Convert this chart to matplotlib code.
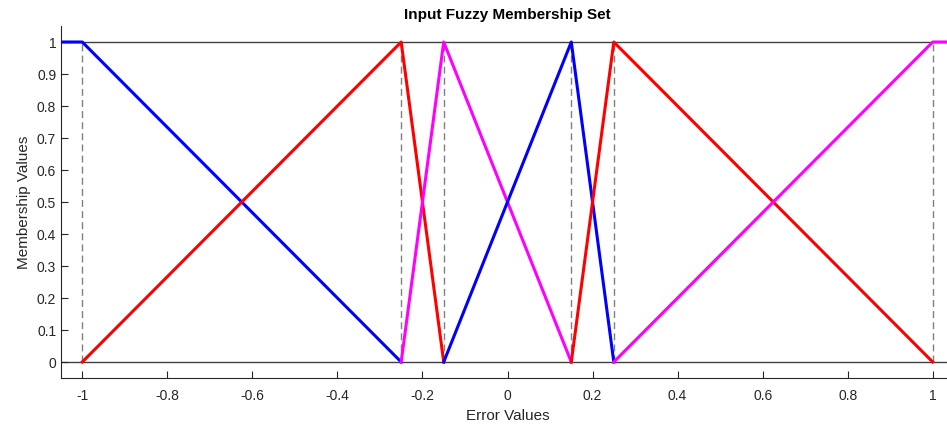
import matplotlib.pyplot as plt

plt.rcParams['font.family'] = ['Liberation Sans', 'DejaVu Sans']

# membership function vertices (x, y)
mf_x = [
    [-1.05, -1.0, -0.25],
    [-1.0, -0.25, -0.15],
    [-0.25, -0.15, 0.15],
    [-0.15, 0.15, 0.25],
    [0.15, 0.25, 1.0],
    [0.25, 1.0, 1.05],
]
mf_y = [
    [1, 1, 0],
    [0, 1, 0],
    [0, 1, 0],
    [0, 1, 0],
    [0, 1, 0],
    [0, 1, 1],
]
mf_colors = ['#0000ff', '#ff0000', '#ff00ff', '#0000ff', '#ff0000', '#ff00ff']
peaks = [-1.0, -0.25, -0.15, 0.15, 0.25, 1.0]

xticks = [-1, -0.8, -0.6, -0.4, -0.2, 0, 0.2, 0.4, 0.6, 0.8, 1]
xticklabels = ['-1', '-0.8', '-0.6', '-0.4', '-0.2', '0', '0.2', '0.4', '0.6', '0.8', '1']
yticks = [0, 0.1, 0.2, 0.3, 0.4, 0.5, 0.6, 0.7, 0.8, 0.9, 1]
yticklabels = ['0', '0.1', '0.2', '0.3', '0.4', '0.5', '0.6', '0.7', '0.8', '0.9', '1']

fig = plt.figure(figsize=(9.47, 4.29), dpi=100)
ax = fig.add_axes([61/947, 1 - 378/429, (954 - 61)/947, (378 - 26)/429])

ax.axhline(1, color='#404040', lw=1, zorder=1)
ax.axhline(0, color='#404040', lw=1, zorder=1)
for p in peaks:
    ax.plot([p, p], [0, 1], '--', color='#808080', lw=1, dashes=(5, 3), zorder=2)

for xs, ys, c in zip(mf_x, mf_y, mf_colors):
    ax.plot(xs, ys, color=c, lw=2.2, zorder=3)

ax.set_xlim(-1.05, 1.05)
ax.set_ylim(-0.05, 1.05)
ax.set_xticks(xticks)
ax.set_xticklabels(xticklabels)
ax.set_yticks(yticks)
ax.set_yticklabels(yticklabels)
ax.tick_params(direction='in', length=5, colors='#262626', labelsize=10, width=0.8)
ax.tick_params(axis='x', pad=8)
for s in ['top', 'right']:
    ax.spines[s].set_visible(False)
for s in ['left', 'bottom']:
    ax.spines[s].set_color('#262626')
    ax.spines[s].set_linewidth(0.8)

ax.set_xlabel('Error Values', fontsize=11, color='#262626')
ax.set_ylabel('Membership Values', fontsize=11, color='#262626')
fig.text(507/947, 1 - 15/429, 'Input Fuzzy Membership Set', fontsize=11,
         fontweight='bold', ha='center', va='center')

fig.savefig('out.png', dpi=100)
